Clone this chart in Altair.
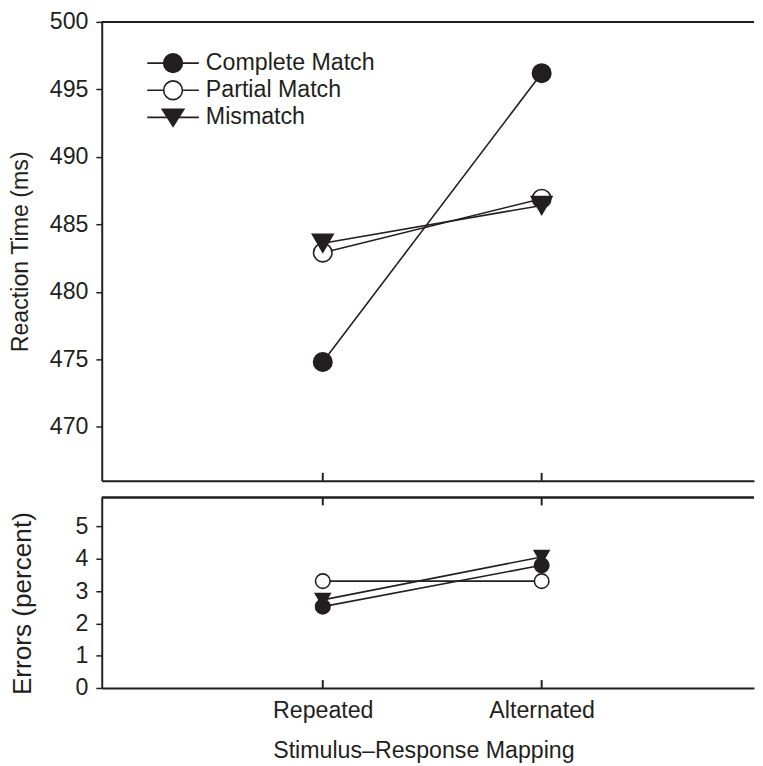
import altair as alt
import pandas as pd

# ---------------- data ----------------
mapping = ["Repeated", "Alternated"]
series = ["Complete Match", "Partial Match", "Mismatch"]

rt_complete = [474.8, 496.2]
rt_partial = [482.9, 486.9]
rt_mismatch = [483.6, 486.4]

err_complete = [2.52, 3.80]
err_partial = [3.31, 3.31]
err_mismatch = [2.73, 4.06]

rt_ticks = [470, 475, 480, 485, 490, 495, 500]
err_ticks = [0, 1, 2, 3, 4, 5]


def frame(values):
    rows = []
    for s, vals in zip(series, values):
        for m, v in zip(mapping, vals):
            rows.append({"series": s, "mapping": m, "value": v})
    return pd.DataFrame(rows)


rt_df = frame([rt_complete, rt_partial, rt_mismatch])
err_df = frame([err_complete, err_partial, err_mismatch])
tick_df = pd.DataFrame({"mapping": mapping})

# ---------------- styling ----------------
FONT = "Liberation Sans"
INK = "#231f20"
FS = 23.5
W = 661
H1 = 465
H2 = 193
TICK = 8

x_scale = alt.Scale(type="point", domain=mapping, padding=0.99, align=0.51)

# legend symbols: line segment through the marker (unit radius = marker radius)
circle_path = "M-2.75,0L-1,0M1,0L2.75,0M-1,0A1,1,0,1,0,1,0A1,1,0,1,0,-1,0Z"
tri_path = "M-2.75,0L2.75,0M-1.15,-0.85L1.15,-0.85L0,0.95Z"


def panel(df, H, ydomain, yticks, ytitle, title_pad, title_fs, title_y, bottom,
          msize_c, msize_t):
    if bottom:
        x_axis = alt.Axis(
            labels=True, ticks=False, grid=False, domain=True, labelAngle=0,
            labelAlign="center", labelBaseline="top",
            domainWidth=2, labelFontSize=FS, labelPadding=11,
            title="Stimulus\u2013Response Mapping", titleFontSize=FS,
            titleFontWeight="normal", titlePadding=17, titleX=326,
        )
    else:
        x_axis = alt.Axis(
            labels=False, ticks=False, grid=False, domain=True,
            domainWidth=2, title=None,
        )
    y_axis = alt.Axis(
        values=yticks, tickSize=6, tickWidth=1.5, grid=False,
        domainWidth=2, labelFontSize=FS, labelPadding=8,
        title=ytitle, titleFontSize=title_fs, titleFontWeight="normal",
        titlePadding=title_pad, titleY=title_y,
    )
    X = alt.X("mapping:N", scale=x_scale, axis=x_axis, sort=mapping)
    Y = alt.Y("value:Q", scale=alt.Scale(domain=ydomain, nice=False, zero=False), axis=y_axis)

    base = alt.Chart(df)
    lines = base.mark_line(color=INK, strokeWidth=1.6).encode(
        x=X, y=Y, detail="series:N"
    )
    pts = base.transform_calculate(
        marker="datum.series === 'Mismatch' ? 'triangle-down' : 'circle'",
        fillc=f"datum.series === 'Partial Match' ? 'white' : '{INK}'",
        msize=f"datum.series === 'Mismatch' ? {msize_t} : {msize_c}",
    ).mark_point(filled=True, stroke=INK, strokeWidth=1.6, opacity=1).encode(
        x=X, y=Y,
        shape=alt.Shape("marker:N", scale=None),
        fill=alt.Fill("fillc:N", scale=None),
        size=alt.Size("msize:Q", scale=None),
    )

    tk = alt.Chart(tick_df)
    ticks_bottom = tk.mark_rule(color=INK, strokeWidth=2).encode(
        x=alt.X("mapping:N", scale=x_scale, sort=mapping),
        y=alt.value(H), y2=alt.value(H - TICK),
    )
    top_line = tk.mark_rule(color=INK, strokeWidth=2).encode(
        x=alt.value(0), x2=alt.value(W), y=alt.value(0)
    )
    layers = [top_line, ticks_bottom]
    if bottom:
        ticks_top = tk.mark_rule(color=INK, strokeWidth=2).encode(
            x=alt.X("mapping:N", scale=x_scale, sort=mapping),
            y=alt.value(0), y2=alt.value(TICK),
        )
        layers.append(ticks_top)
    layers += [lines, pts]

    if not bottom:
        leg = alt.Legend(
            orient="none", legendX=60.5, legendY=30, title=None,
            symbolSize=361, labelFontSize=FS, labelOffset=21.5, labelLimit=0,
            rowPadding=1.5, padding=0, symbolStrokeColor=INK,
            symbolStrokeWidth=1.6, symbolOpacity=1, labelFont=FONT,
            labelColor=INK,
        )
        legend_layer = base.mark_point(filled=True, size=0, stroke=INK, strokeWidth=1.6).encode(
            x=X, y=Y,
            shape=alt.Shape("series:N", sort=series,
                            scale=alt.Scale(domain=series,
                                            range=[circle_path, circle_path, tri_path]),
                            legend=leg),
            fill=alt.Fill("series:N", sort=series,
                          scale=alt.Scale(domain=series, range=[INK, "white", INK]),
                          legend=leg),
        )
        layers.append(legend_layer)

    return alt.layer(*layers).properties(width=W, height=H)


top = panel(rt_df, H1, [466, 500], rt_ticks, "Reaction Time (ms)", 17, FS, H1 / 2,
            False, 350, 440)
bottom = panel(err_df, H2, [0, 5.9], err_ticks, "Errors (percent)", 39, 26.5, 107,
               True, 216, 225)

chart = alt.vconcat(top, bottom, spacing=15).resolve_scale(
    shape="independent", fill="independent", size="independent"
).properties(
    padding={"left": 0, "top": -3, "right": 0, "bottom": 0},
    background="white",
).configure_view(stroke=None).configure_axis(
    labelFont=FONT, titleFont=FONT, labelColor=INK, titleColor=INK,
    domainColor=INK, tickColor=INK,
).configure_legend(labelFont=FONT, labelColor=INK)

chart.save("out.html", embed_options={"renderer": "svg", "actions": False})
